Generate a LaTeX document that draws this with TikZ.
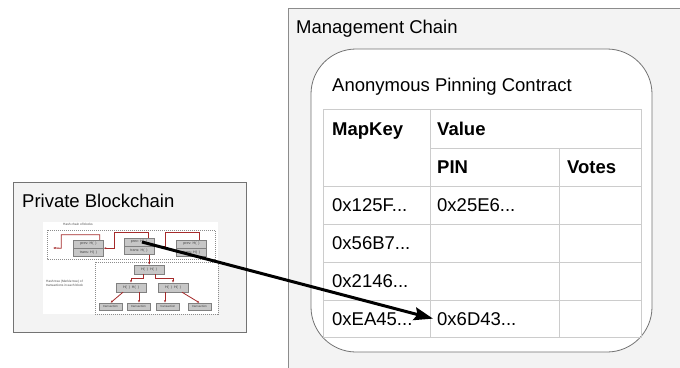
\documentclass[tikz,border=0pt]{standalone}
\usepackage{fontspec}
\setmainfont{Liberation Sans}
\usetikzlibrary{arrows.meta,positioning,calc}
\definecolor{boxgray}{HTML}{F3F3F3}
\definecolor{linegray}{HTML}{CCCCCC}
\definecolor{chainred}{HTML}{A52A2A}
\tikzset{
  % big boxes and their titles
  panel/.style={draw=black!45, fill=boxgray, line width=0.9pt},
  title/.style={anchor=base west, inner sep=0pt, font=\fontsize{18.5}{22}\selectfont},
  cell/.style={anchor=base west, inner sep=0pt, font=\fontsize{18.5}{22}\selectfont},
  head/.style={cell, font=\fontsize{18.5}{22}\selectfont\bfseries},
  % thumbnail of the hash chain
  fld/.style={draw=black!50, fill=black!22, minimum width=30pt, minimum height=8pt,
    inner sep=0pt, font=\fontsize{3.6}{4}\selectfont, text=black!75},
  txn/.style={fld, minimum width=23pt, minimum height=7pt, font=\fontsize{3}{3.5}\selectfont},
  dbox/.style={draw=black!45, dashed, dash pattern=on 1pt off 1pt, line width=0.4pt},
  redarr/.style={draw=chainred, line width=0.8pt, -{Latex[length=2.5pt,width=2.2pt]}},
  small/.style={inner sep=0pt, font=\fontsize{3.2}{3.8}\selectfont, text=black!70, align=left}
}

\begin{document}
\begin{tikzpicture}[x=1pt, y=-1pt,
    ptrarr/.style={line width=3pt, -{Stealth[length=19pt,width=13pt,inset=3pt]}}
    ]
\useasboundingbox (0,0) rectangle (680,367);
\clip (0,0) rectangle (680,367);

%management chain side
\draw [panel] (288,8) rectangle (700,380);
\node (mgmt) [title] at (296,33) {Management Chain};

\draw [draw=black!55, line width=0.8pt, fill=white, rounded corners=45pt] (311,49) rectangle (652,352);
\node (apc) [title] at (332,91) {Anonymous Pinning Contract};

% table grid
\draw [linegray, line width=0.8pt] (323,109) rectangle (641,337);
\draw [linegray, line width=0.8pt] (430,148) -- (641,148);
\foreach \y in {186,224,262,300}
  \draw [linegray, line width=0.8pt] (323,\y) -- (641,\y);
\draw [linegray, line width=0.8pt] (430,109) -- (430,337);
\draw [linegray, line width=0.8pt] (559,148) -- (559,337);

\node (mapkey) [head] at (332,135) {MapKey};
\node (value) [head] at (437,135) {Value};
\node (pin) [head] at (437,173) {PIN};
\node (votes) [head] at (567,173) {Votes};

\node (key1) [cell] at (332,211.6) {0x125F...};
\node (pin1) [cell] at (437,211.6) {0x25E6...};
\node (key2) [cell] at (332,249.6) {0x56B7...};
\node (key3) [cell] at (332,287.6) {0x2146...};
\node (key4) [cell] at (332,325) {0xEA45...};
\node (pin4) [cell] at (437,325) {0x6D43...};

%private blockchain side
\draw [panel, draw=black!55] (13,182) rectangle (246,332);
\node (priv) [title] at (22,207) {Private Blockchain};

\fill [white] (43,222) rectangle (218,314);
\node (chainlbl) [small] at (78,224) {Hash chain of blocks};
\draw [dbox] (47,230) rectangle (215,259);
\draw [dbox] (95,262) rectangle (218,314);
\node (treelbl) [small, anchor=west] at (46,283) {Hash tree (Merkle tree) of\\transactions in each block};

% blocks
\node (b1p) [fld] at (88.5,244) {prev: H(\ \ )};
\node (b1t) [fld, below=0pt of b1p] {trans: H(\ \ )};
\node (b2p) [fld] at (139,242) {prev: H(\ \ )};
\node (b2t) [fld, below=0pt of b2p] {trans: H(\ \ )};
\node (b3p) [fld] at (191.5,244) {prev: H(\ \ )};
\node (b3t) [fld, below=0pt of b3p] {trans: H(\ \ )};
\coordinate (c0) at (53,248);

\draw [redarr] ([xshift=-4pt]b1p.north east) -- ++(0,-5) -| ($(b1p.south west)+(-12,0)$) -- (c0);
\draw [redarr] ([xshift=-6pt]b2p.north east) -- ++(0,-5) -| ($(b1p.south east)+(11,0)$) -- (b1p.south east);
\draw [redarr] ([xshift=-7pt]b3p.north east) -- ++(0,-7) -| ($(b2p.south east)+(11,0)$) -- (b2p.south east);

% merkle tree
\node (root) [fld, minimum height=9pt] at (149,269.5) {H(\ \ )\ \ H(\ \ )};
\node (hl) [fld, minimum height=9pt] at (131,287.5) {H(\ \ )\ \ H(\ \ )};
\node (hr) [fld, minimum height=9pt] at (173,287.5) {H(\ \ )\ \ H(\ \ )};
\node (tx1) [txn] at (110.5,306.5) {transaction};
\node (tx2) [txn] at (138.5,306.5) {transaction};
\node (tx3) [txn] at (168,306.5) {transaction};
\node (tx4) [txn] at (199.5,306.5) {transaction};

\draw [redarr] ([xshift=-5pt]b2t.south east) -- ([xshift=-5pt]b2t.south east |- root.north);
\draw [redarr] ([xshift=-6pt]root.south) -- ++(0,4) -| (hl.north);
\draw [redarr] ([xshift=6pt]root.south) -- ++(0,4) -| (hr.north);
\draw [redarr] ([xshift=-8pt]hl.south) -- (tx1.north);
\draw [redarr] ([xshift=8pt]hl.south) -- ([xshift=8pt]hl.south |- tx2.north);
\draw [redarr] ([xshift=-8pt]hr.south) -- ([xshift=-8pt]hr.south |- tx3.north);
\draw [redarr] ([xshift=9pt]hr.south) -- (tx4.north);

% pointer into the contract
\draw [ptrarr] ([xshift=3pt]b2p.center) -- ([xshift=-4pt]pin4.west);

\end{tikzpicture}
\end{document}
